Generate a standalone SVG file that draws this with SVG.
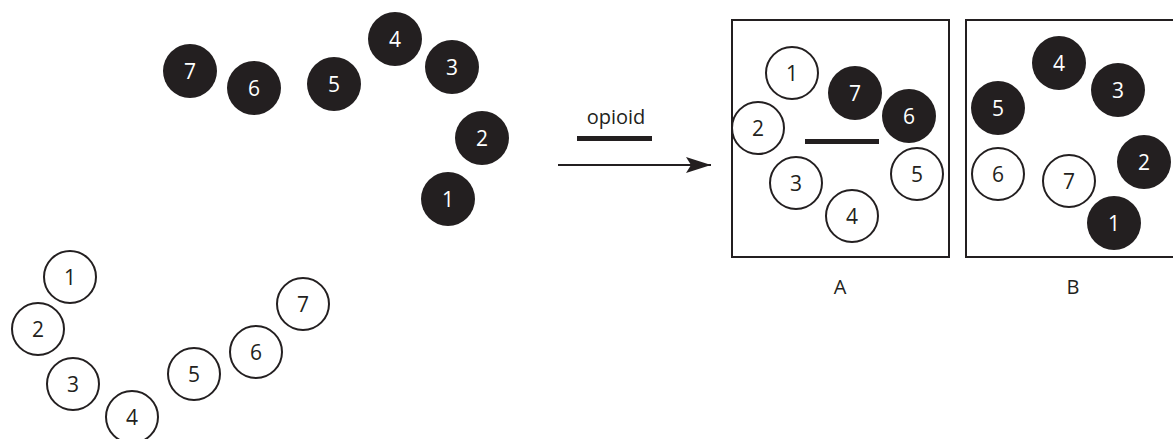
<svg xmlns="http://www.w3.org/2000/svg" width="1173" height="439" viewBox="0 0 1173 439">
<style>
.f{fill:#231f20;}
.o{fill:#fff;stroke:#231f20;stroke-width:2;}
.tw{fill:#fff;font-family:"Open Sans","Noto Sans",sans-serif;font-size:21px;text-anchor:middle;}
.tb{fill:#231f20;font-family:"Open Sans","Noto Sans",sans-serif;font-size:21px;text-anchor:middle;}
.box{fill:none;stroke:#231f20;stroke-width:2;}
.lbl{fill:#231f20;font-family:"Open Sans","Noto Sans",sans-serif;font-size:20px;text-anchor:middle;}
</style>
<defs>
<marker id="ah" markerUnits="userSpaceOnUse" markerWidth="26" markerHeight="18" refX="25" refY="9" orient="auto">
<path d="M0,1 L25,9 L0,17 L5,9 Z" fill="#231f20"/>
</marker>
</defs>
<rect width="1173" height="439" fill="#fff"/>

<g id="top-chain">
<g id="t7"><circle class="f" cx="190" cy="71" r="27"/><text class="tw" x="190" y="78.5">7</text></g>
<g id="t6"><circle class="f" cx="254" cy="88" r="27"/><text class="tw" x="254" y="95.5">6</text></g>
<g id="t5"><circle class="f" cx="334" cy="84" r="27"/><text class="tw" x="334" y="91.5">5</text></g>
<g id="t4"><circle class="f" cx="395" cy="39" r="27"/><text class="tw" x="395" y="46.5">4</text></g>
<g id="t3"><circle class="f" cx="452" cy="67" r="27"/><text class="tw" x="452" y="74.5">3</text></g>
<g id="t2"><circle class="f" cx="482" cy="138" r="27"/><text class="tw" x="482" y="145.5">2</text></g>
<g id="t1"><circle class="f" cx="448" cy="199" r="27"/><text class="tw" x="448" y="206.5">1</text></g>
</g>

<g id="bottom-chain">
<g id="b1"><circle class="o" cx="70" cy="277" r="26"/><text class="tb" x="70" y="284.5">1</text></g>
<g id="b2"><circle class="o" cx="38" cy="329" r="26"/><text class="tb" x="38" y="336.5">2</text></g>
<g id="b3"><circle class="o" cx="73" cy="384" r="26"/><text class="tb" x="73" y="391.5">3</text></g>
<g id="b4"><circle class="o" cx="132" cy="417" r="26"/><text class="tb" x="132" y="424.5">4</text></g>
<g id="b5"><circle class="o" cx="194" cy="374" r="26"/><text class="tb" x="194" y="381.5">5</text></g>
<g id="b6"><circle class="o" cx="256" cy="352" r="26"/><text class="tb" x="256" y="359.5">6</text></g>
<g id="b7"><circle class="o" cx="303" cy="304" r="26"/><text class="tb" x="303" y="311.5">7</text></g>
</g>

<g id="connectors">
<line x1="558" y1="165" x2="711" y2="165" stroke="#231f20" stroke-width="2" marker-end="url(#ah)"/>
</g>

<g id="opioid">
<text class="lbl" x="616" y="124">opioid</text>
<rect x="577" y="136" width="75" height="5" fill="#231f20"/>
</g>

<g id="boxA">
<rect class="box" x="732" y="20" width="217" height="237"/>
<g id="a1"><circle class="o" cx="792" cy="73" r="26"/><text class="tb" x="792" y="80.5">1</text></g>
<g id="a7"><circle class="f" cx="855" cy="93" r="27"/><text class="tw" x="855" y="100.5">7</text></g>
<g id="a6"><circle class="f" cx="909" cy="116" r="27"/><text class="tw" x="909" y="123.5">6</text></g>
<g id="a2"><circle class="o" cx="758" cy="128" r="26"/><text class="tb" x="758" y="135.5">2</text></g>
<rect x="805" y="139" width="74" height="5" fill="#231f20"/>
<g id="a3"><circle class="o" cx="796" cy="183" r="26"/><text class="tb" x="796" y="190.5">3</text></g>
<g id="a4"><circle class="o" cx="852" cy="216" r="26"/><text class="tb" x="852" y="223.5">4</text></g>
<g id="a5"><circle class="o" cx="917" cy="174" r="26"/><text class="tb" x="917" y="181.5">5</text></g>
<text class="lbl" x="840" y="294">A</text>
</g>

<g id="boxB">
<rect class="box" x="966" y="20" width="217" height="237"/>
<g id="c4"><circle class="f" cx="1059" cy="63" r="27"/><text class="tw" x="1059" y="70.5">4</text></g>
<g id="c3"><circle class="f" cx="1118" cy="90" r="27"/><text class="tw" x="1118" y="97.5">3</text></g>
<g id="c5"><circle class="f" cx="998" cy="108" r="27"/><text class="tw" x="998" y="115.5">5</text></g>
<g id="c2"><circle class="f" cx="1144" cy="162" r="27"/><text class="tw" x="1144" y="169.5">2</text></g>
<g id="c6"><circle class="o" cx="998" cy="174" r="26"/><text class="tb" x="998" y="181.5">6</text></g>
<g id="c7"><circle class="o" cx="1069" cy="181" r="26"/><text class="tb" x="1069" y="188.5">7</text></g>
<g id="c1"><circle class="f" cx="1114" cy="223" r="27"/><text class="tw" x="1114" y="230.5">1</text></g>
<text class="lbl" x="1073" y="294">B</text>
</g>
</svg>
